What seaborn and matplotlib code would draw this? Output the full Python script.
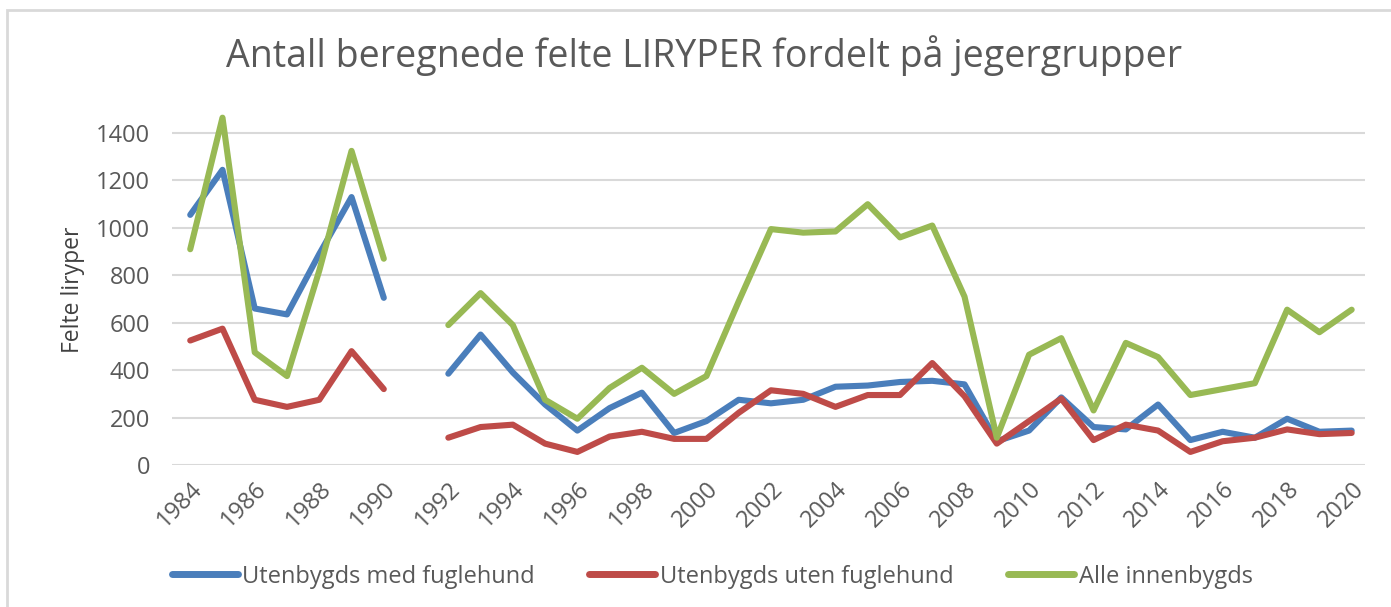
import numpy as np
import pandas as pd
import seaborn as sns
from matplotlib import pyplot as plt
from matplotlib.patches import Rectangle

years = list(range(1984, 2021))

# 1991 mangler i grunnlaget
med_fuglehund = [1055, 1245, 660, 635, 890, 1130, 705, np.nan,
                 385, 550, 390, 255, 145, 240, 305, 135, 185, 275, 260, 275,
                 330, 335, 350, 355, 340, 100, 145, 285, 160, 150, 255, 105,
                 140, 115, 195, 140, 145]
uten_fuglehund = [525, 575, 275, 245, 275, 480, 320, np.nan,
                  115, 160, 170, 90, 55, 120, 140, 110, 110, 220, 315, 300,
                  245, 295, 295, 430, 290, 90, 185, 280, 105, 170, 145, 55,
                  100, 115, 150, 130, 135]
innenbygds = [910, 1465, 475, 375, 820, 1325, 870, np.nan,
              590, 725, 590, 275, 195, 325, 410, 300, 375, 690, 995, 980,
              985, 1100, 960, 1010, 710, 115, 465, 535, 230, 515, 455, 295,
              320, 345, 655, 560, 655]

series = ["Utenbygds med fuglehund", "Utenbygds uten fuglehund", "Alle innenbygds"]
colors = ["#4A7EBB", "#BE4B48", "#98B954"]

data = pd.DataFrame({"År": years, series[0]: med_fuglehund,
                     series[1]: uten_fuglehund, series[2]: innenbygds})
data = data.melt(id_vars="År", var_name="Gruppe", value_name="Felte liryper")
data["Periode"] = np.where(data["År"] < 1991, "før", "etter")
data = data.dropna()

sns.set_style("white")
plt.rcParams["font.family"] = ["Open Sans", "DejaVu Sans"]

fig = plt.figure(figsize=(13.91, 6.07), dpi=100)
ax = fig.add_axes([0.124, 0.234, 0.857, 0.578])

sns.lineplot(data, x="År", y="Felte liryper", hue="Gruppe", units="Periode",
             estimator=None, hue_order=series, palette=colors, linewidth=4.4,
             ax=ax, legend=False)

for c in ax.lines:
    c.set_clip_on(False)
    c.set_solid_joinstyle("round")
    c.set_solid_capstyle("round")

ax.set_xlim(1983.45, 2020.4)
ax.set_ylim(0, 1480)
ax.set_yticks(range(0, 1401, 200))
ax.set_xticks(range(1984, 2021, 2))
ax.tick_params(axis="x", labelrotation=45, labelsize=17, colors="#595959", length=0, pad=9)
ax.tick_params(axis="y", labelsize=17, colors="#595959", length=0, pad=16)
for lbl in ax.get_xticklabels():
    lbl.set_ha("right")
    lbl.set_rotation_mode("anchor")
ax.grid(axis="y", color="#D9D9D9", linewidth=1.5)
ax.set_axisbelow(True)
for s in ax.spines.values():
    s.set_visible(False)
ax.set_xlabel("")
ax.set_ylabel("Felte liryper", fontsize=16.5, color="#404040", labelpad=8)

fig.suptitle("Antall beregnede felte LIRYPER fordelt på jegergrupper",
             x=0.506, y=0.909, va="center", fontsize=27, color="#595959")

handles = [plt.Line2D([], [], color=c, linewidth=5) for c in colors]
fig.legend(handles, series, loc="center", bbox_to_anchor=(0.512, 0.05), ncol=3,
           frameon=False, fontsize=17, handlelength=2.8, handletextpad=0.2,
           columnspacing=2.3, labelcolor="#595959")

fig.patches.append(Rectangle((0.005, -0.1), 1.1, 1.084, transform=fig.transFigure,
                             fill=False, edgecolor="#D9D9D9", linewidth=2))

fig.savefig("out.png", dpi=100)
